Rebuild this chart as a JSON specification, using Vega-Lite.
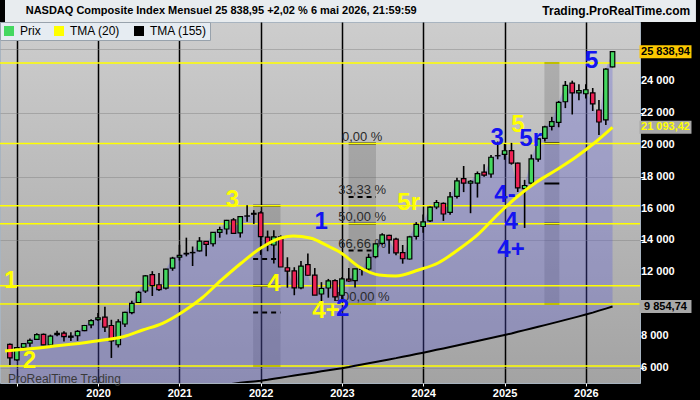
{
  "$schema": "https://vega.github.io/schema/vega-lite/v6.json",
  "background": "black",
  "autosize": {"type": "none"},
  "padding": {"left": 0, "top": 22, "right": 60, "bottom": 17},
  "width": 640,
  "height": 361,
  "view": {
    "fill": {"gradient": "linear", "x1": 0, "y1": 0, "x2": 0, "y2": 1,
             "stops": [{"offset": 0, "color": "#cdcdcd"}, {"offset": 1, "color": "#a3a3a3"}]},
    "stroke": "#a8b4c0"
  },
  "config": {
    "font": "Liberation Sans",
    "axis": {"labelOverlap": false},
    "locale": {"number": {"decimal": ",", "thousands": " ", "grouping": [3], "currency": ["", " €"]}}
  },
  "datasets": {
    "mois": [
      {"d": "2018-12-01", "o": 7487, "h": 7535, "l": 6190, "c": 6635, "t": 3560},
      {"d": "2019-01-01", "o": 6506, "h": 7310, "l": 6457, "c": 7282, "t": 3600},
      {"d": "2019-02-01", "o": 7302, "h": 7556, "l": 7234, "c": 7533, "t": 3635},
      {"d": "2019-03-01", "o": 7558, "h": 7851, "l": 7332, "c": 7729, "t": 3670},
      {"d": "2019-04-01", "o": 7800, "h": 8176, "l": 7750, "c": 8095, "t": 3705},
      {"d": "2019-05-01", "o": 8108, "h": 8165, "l": 7436, "c": 7453, "t": 3740},
      {"d": "2019-06-01", "o": 7444, "h": 8092, "l": 7292, "c": 8006, "t": 3775},
      {"d": "2019-07-01", "o": 8091, "h": 8339, "l": 7990, "c": 8175, "t": 3810},
      {"d": "2019-08-01", "o": 8186, "h": 8311, "l": 7662, "c": 7963, "t": 3850},
      {"d": "2019-09-01", "o": 7930, "h": 8243, "l": 7700, "c": 7999, "t": 3890},
      {"d": "2019-10-01", "o": 8024, "h": 8375, "l": 7700, "c": 8292, "t": 3930},
      {"d": "2019-11-01", "o": 8350, "h": 8705, "l": 8310, "c": 8665, "t": 3975},
      {"d": "2019-12-01", "o": 8700, "h": 9052, "l": 8500, "c": 8973, "t": 4020},
      {"d": "2020-01-01", "o": 9039, "h": 9451, "l": 8952, "c": 9150, "t": 4060},
      {"d": "2020-02-01", "o": 9190, "h": 9838, "l": 8264, "c": 8567, "t": 4100},
      {"d": "2020-03-01", "o": 8667, "h": 9026, "l": 6631, "c": 7700, "t": 4140},
      {"d": "2020-04-01", "o": 7459, "h": 9060, "l": 7288, "c": 8890, "t": 4180},
      {"d": "2020-05-01", "o": 8760, "h": 9523, "l": 8567, "c": 9490, "t": 4220},
      {"d": "2020-06-01", "o": 9471, "h": 10222, "l": 9371, "c": 10058, "t": 4260},
      {"d": "2020-07-01", "o": 10109, "h": 10839, "l": 10096, "c": 10745, "t": 4305},
      {"d": "2020-08-01", "o": 10831, "h": 11829, "l": 10707, "c": 11775, "t": 4350},
      {"d": "2020-09-01", "o": 11860, "h": 12074, "l": 10519, "c": 11168, "t": 4395},
      {"d": "2020-10-01", "o": 11221, "h": 11965, "l": 10822, "c": 10911, "t": 4440},
      {"d": "2020-11-01", "o": 11010, "h": 12229, "l": 10927, "c": 12199, "t": 4490},
      {"d": "2020-12-01", "o": 12259, "h": 12973, "l": 12099, "c": 12888, "t": 4545},
      {"d": "2021-01-01", "o": 12958, "h": 13728, "l": 12741, "c": 13070, "t": 4600},
      {"d": "2021-02-01", "o": 13154, "h": 14175, "l": 13003, "c": 13192, "t": 4650},
      {"d": "2021-03-01", "o": 13230, "h": 13620, "l": 12397, "c": 13247, "t": 4700},
      {"d": "2021-04-01", "o": 13345, "h": 14211, "l": 13300, "c": 13962, "t": 4750},
      {"d": "2021-05-01", "o": 13938, "h": 13968, "l": 13002, "c": 13749, "t": 4800},
      {"d": "2021-06-01", "o": 13792, "h": 14536, "l": 13625, "c": 14504, "t": 4850},
      {"d": "2021-07-01", "o": 14510, "h": 14863, "l": 14172, "c": 14673, "t": 4905},
      {"d": "2021-08-01", "o": 14719, "h": 15288, "l": 14376, "c": 15259, "t": 4960},
      {"d": "2021-09-01", "o": 15288, "h": 15403, "l": 14418, "c": 14449, "t": 5015},
      {"d": "2021-10-01", "o": 14472, "h": 15498, "l": 14181, "c": 15498, "t": 5070},
      {"d": "2021-11-01", "o": 15527, "h": 16212, "l": 15168, "c": 15538, "t": 5120},
      {"d": "2021-12-01", "o": 15700, "h": 15901, "l": 15038, "c": 15645, "t": 5160},
      {"d": "2022-01-01", "o": 15732, "h": 15833, "l": 13094, "c": 14240, "t": 5204},
      {"d": "2022-02-01", "o": 14203, "h": 14620, "l": 13322, "c": 13751, "t": 5265},
      {"d": "2022-03-01", "o": 13716, "h": 14646, "l": 12555, "c": 14221, "t": 5330},
      {"d": "2022-04-01", "o": 14219, "h": 14320, "l": 12334, "c": 12335, "t": 5395},
      {"d": "2022-05-01", "o": 12287, "h": 12945, "l": 11035, "c": 12081, "t": 5460},
      {"d": "2022-06-01", "o": 12089, "h": 12320, "l": 10565, "c": 11028, "t": 5525},
      {"d": "2022-07-01", "o": 11028, "h": 12705, "l": 10940, "c": 12391, "t": 5590},
      {"d": "2022-08-01", "o": 12480, "h": 13181, "l": 11785, "c": 11816, "t": 5655},
      {"d": "2022-09-01", "o": 11826, "h": 12270, "l": 10576, "c": 10576, "t": 5720},
      {"d": "2022-10-01", "o": 10641, "h": 11386, "l": 10089, "c": 10988, "t": 5790},
      {"d": "2022-11-01", "o": 11019, "h": 11587, "l": 10410, "c": 11468, "t": 5855},
      {"d": "2022-12-01", "o": 11486, "h": 11571, "l": 10207, "c": 10466, "t": 5920},
      {"d": "2023-01-01", "o": 10563, "h": 11691, "l": 10265, "c": 11585, "t": 5982},
      {"d": "2023-02-01", "o": 11574, "h": 12270, "l": 11406, "c": 11456, "t": 6060},
      {"d": "2023-03-01", "o": 11479, "h": 12227, "l": 11050, "c": 12222, "t": 6140},
      {"d": "2023-04-01", "o": 12183, "h": 12270, "l": 11796, "c": 12227, "t": 6220},
      {"d": "2023-05-01", "o": 12208, "h": 13164, "l": 11963, "c": 12935, "t": 6300},
      {"d": "2023-06-01", "o": 12984, "h": 13828, "l": 12882, "c": 13788, "t": 6380},
      {"d": "2023-07-01", "o": 13813, "h": 14446, "l": 13723, "c": 14346, "t": 6460},
      {"d": "2023-08-01", "o": 14313, "h": 14359, "l": 13161, "c": 14035, "t": 6540},
      {"d": "2023-09-01", "o": 14080, "h": 14174, "l": 13079, "c": 13219, "t": 6620},
      {"d": "2023-10-01", "o": 13241, "h": 13715, "l": 12544, "c": 12851, "t": 6710},
      {"d": "2023-11-01", "o": 12836, "h": 14291, "l": 12800, "c": 14226, "t": 6790},
      {"d": "2023-12-01", "o": 14258, "h": 15151, "l": 14055, "c": 15011, "t": 6875},
      {"d": "2024-01-01", "o": 14874, "h": 15629, "l": 14477, "c": 15164, "t": 6960},
      {"d": "2024-02-01", "o": 15228, "h": 16134, "l": 15163, "c": 16092, "t": 7050},
      {"d": "2024-03-01", "o": 16099, "h": 16538, "l": 15962, "c": 16379, "t": 7140},
      {"d": "2024-04-01", "o": 16324, "h": 16384, "l": 15223, "c": 15658, "t": 7230},
      {"d": "2024-05-01", "o": 15759, "h": 17032, "l": 15605, "c": 16735, "t": 7320},
      {"d": "2024-06-01", "o": 16766, "h": 17936, "l": 16628, "c": 17733, "t": 7415},
      {"d": "2024-07-01", "o": 17879, "h": 18671, "l": 17032, "c": 17599, "t": 7505},
      {"d": "2024-08-01", "o": 17591, "h": 17786, "l": 15708, "c": 17714, "t": 7600},
      {"d": "2024-09-01", "o": 17598, "h": 18327, "l": 16690, "c": 18189, "t": 7690},
      {"d": "2024-10-01", "o": 18282, "h": 18785, "l": 17988, "c": 18095, "t": 7785},
      {"d": "2024-11-01", "o": 18167, "h": 19366, "l": 17925, "c": 19218, "t": 7880},
      {"d": "2024-12-01", "o": 19313, "h": 20205, "l": 19091, "c": 19311, "t": 7975},
      {"d": "2025-01-01", "o": 19403, "h": 20053, "l": 19059, "c": 19627, "t": 8070},
      {"d": "2025-02-01", "o": 19632, "h": 20118, "l": 18753, "c": 18847, "t": 8170},
      {"d": "2025-03-01", "o": 18851, "h": 18880, "l": 17040, "c": 17299, "t": 8270},
      {"d": "2025-04-01", "o": 17250, "h": 17800, "l": 14784, "c": 17446, "t": 8375},
      {"d": "2025-05-01", "o": 17600, "h": 19390, "l": 17500, "c": 19114, "t": 8480},
      {"d": "2025-06-01", "o": 19100, "h": 20400, "l": 18930, "c": 20370, "t": 8585},
      {"d": "2025-07-01", "o": 20400, "h": 21200, "l": 20200, "c": 21122, "t": 8690},
      {"d": "2025-08-01", "o": 21150, "h": 21750, "l": 20900, "c": 21456, "t": 8800},
      {"d": "2025-09-01", "o": 21400, "h": 22750, "l": 21100, "c": 22660, "t": 8910},
      {"d": "2025-10-01", "o": 22700, "h": 24000, "l": 22300, "c": 23725, "t": 9020},
      {"d": "2025-11-01", "o": 23870, "h": 24020, "l": 21900, "c": 23250, "t": 9130},
      {"d": "2025-12-01", "o": 23250, "h": 23800, "l": 22800, "c": 23400, "t": 9240},
      {"d": "2026-01-01", "o": 23200, "h": 23800, "l": 22900, "c": 23450, "t": 9355},
      {"d": "2026-02-01", "o": 23250, "h": 23560, "l": 22120, "c": 22560, "t": 9475},
      {"d": "2026-03-01", "o": 22180, "h": 22810, "l": 20610, "c": 21430, "t": 9600},
      {"d": "2026-04-01", "o": 21560, "h": 24800, "l": 21240, "c": 24750, "t": 9725},
      {"d": "2026-05-01", "o": 24880, "h": 25850, "l": 24850, "c": 25838.94, "t": 9854.74}
    ],
    "tma20": [
      {"d": "2018-11-09", "v": 7067},
      {"d": "2019-02-05", "v": 7174},
      {"d": "2019-05-27", "v": 7337},
      {"d": "2019-09-01", "v": 7488},
      {"d": "2020-01-03", "v": 7714},
      {"d": "2020-04-23", "v": 7964},
      {"d": "2020-07-20", "v": 8384},
      {"d": "2020-10-17", "v": 8804},
      {"d": "2021-01-13", "v": 9500},
      {"d": "2021-04-12", "v": 10391},
      {"d": "2021-07-09", "v": 11520},
      {"d": "2021-10-06", "v": 12586},
      {"d": "2022-01-02", "v": 13527},
      {"d": "2022-04-01", "v": 14154},
      {"d": "2022-05-28", "v": 14279},
      {"d": "2022-08-11", "v": 14154},
      {"d": "2022-11-08", "v": 13590},
      {"d": "2022-12-22", "v": 13276},
      {"d": "2023-03-20", "v": 12335},
      {"d": "2023-06-17", "v": 11833},
      {"d": "2023-08-31", "v": 11770},
      {"d": "2023-12-11", "v": 12147},
      {"d": "2024-03-08", "v": 12586},
      {"d": "2024-06-05", "v": 13402},
      {"d": "2024-09-01", "v": 14342},
      {"d": "2024-11-29", "v": 15596},
      {"d": "2025-02-25", "v": 16725},
      {"d": "2025-05-25", "v": 17666},
      {"d": "2025-08-21", "v": 18418},
      {"d": "2025-11-18", "v": 19234},
      {"d": "2026-02-14", "v": 20175},
      {"d": "2026-05-01", "v": 21093.42}
    ],
    "boites": [
      {"debut": "2021-11-28", "fin": "2022-03-31", "haut": 16180, "bas": 6130},
      {"debut": "2023-01-31", "fin": "2023-06-03", "haut": 20080, "bas": 10010},
      {"debut": "2025-06-29", "fin": "2025-09-04", "haut": 25130, "bas": 10010}
    ],
    "fibo": [
      {"debut": "2021-11-28", "fin": "2022-03-31", "niveau": 16180, "trait": "plein"},
      {"debut": "2021-11-28", "fin": "2022-03-31", "niveau": 12830, "trait": "tirets"},
      {"debut": "2021-11-28", "fin": "2022-03-31", "niveau": 11155, "trait": "plein"},
      {"debut": "2021-11-28", "fin": "2022-03-31", "niveau": 9480, "trait": "tirets"},
      {"debut": "2021-11-28", "fin": "2022-03-31", "niveau": 6130, "trait": "plein"},
      {"debut": "2023-01-31", "fin": "2023-06-03", "niveau": 20080, "trait": "plein"},
      {"debut": "2023-01-31", "fin": "2023-06-03", "niveau": 16724, "trait": "tirets"},
      {"debut": "2023-01-31", "fin": "2023-06-03", "niveau": 15045, "trait": "plein"},
      {"debut": "2023-01-31", "fin": "2023-06-03", "niveau": 13367, "trait": "tirets"},
      {"debut": "2023-01-31", "fin": "2023-06-03", "niveau": 10010, "trait": "plein"},
      {"debut": "2025-06-29", "fin": "2025-09-04", "niveau": 25130, "trait": "plein"},
      {"debut": "2025-06-29", "fin": "2025-09-04", "niveau": 20090, "trait": "plein"},
      {"debut": "2025-06-29", "fin": "2025-09-04", "niveau": 17570, "trait": "plein"},
      {"debut": "2025-06-29", "fin": "2025-09-04", "niveau": 15051, "trait": "plein"},
      {"debut": "2025-06-29", "fin": "2025-09-04", "niveau": 10010, "trait": "plein"}
    ],
    "fiboTextes": [
      {"niveau": 20080, "label": "0,00 %"},
      {"niveau": 16724, "label": "33,33 %"},
      {"niveau": 15045, "label": "50,00 %"},
      {"niveau": 13367, "label": "66,66 %"},
      {"niveau": 10010, "label": "100,00 %"}
    ],
    "niveaux": [
      {"v": 25130}, {"v": 20080}, {"v": 16180}, {"v": 15045}, {"v": 11155}, {"v": 10010}, {"v": 6130}
    ],
    "graduations": [
      {"v": 24000}, {"v": 22000}, {"v": 20000}, {"v": 18000}, {"v": 16000}, {"v": 14000}, {"v": 12000}, {"v": 8000}, {"v": 6000}
    ],
    "vagues": [
      {"d": "2018-12-04", "v": 11457, "t": "1", "c": "jaune"},
      {"d": "2019-02-27", "v": 6439, "t": "2", "c": "jaune"},
      {"d": "2021-08-27", "v": 16537, "t": "3", "c": "jaune"},
      {"d": "2022-03-01", "v": 11268, "t": "4", "c": "jaune"},
      {"d": "2022-10-21", "v": 9575, "t": "4+", "c": "jaune"},
      {"d": "2023-01-04", "v": 9700, "t": "2", "c": "bleu"},
      {"d": "2023-10-28", "v": 16349, "t": "5r", "c": "jaune"},
      {"d": "2025-03-02", "v": 21241, "t": "5", "c": "jaune"},
      {"d": "2022-09-30", "v": 15157, "t": "1", "c": "bleu"},
      {"d": "2024-11-29", "v": 20425, "t": "3", "c": "bleu"},
      {"d": "2025-04-28", "v": 20363, "t": "5r", "c": "bleu"},
      {"d": "2025-01-03", "v": 16850, "t": "4-", "c": "bleu"},
      {"d": "2025-01-30", "v": 15157, "t": "4", "c": "bleu"},
      {"d": "2025-01-30", "v": 13401, "t": "4+", "c": "bleu"},
      {"d": "2026-01-27", "v": 25255, "t": "5", "c": "bleu"}
    ],
    "etiquettes": [
      {"v": 25838.94, "label": "25 838,94", "kind": "prix"},
      {"v": 21093.42, "label": "21 093,42", "kind": "tma20"},
      {"v": 9854.74, "label": "9 854,74", "kind": "tma155"}
    ],
    "entete": [
      {"cote": "gauche", "label": "NASDAQ Composite Index Mensuel 25 838,95 +2,02 % 6 mai 2026, 21:59:59"},
      {"cote": "droite", "label": "Trading.ProRealTime.com"}
    ]
  },
  "layer": [
    {
      "data": {"name": "mois"},
      "mark": {"type": "rule", "color": "black", "strokeWidth": 0, "opacity": 0},
      "encoding": {
        "x": {
          "field": "d", "type": "temporal", "title": null,
          "scale": {"type": "utc", "nice": false, "domain": [{"year": 2018, "month": 11, "date": 9, "utc": true}, {"year": 2026, "month": 8, "date": 10, "utc": true}]},
          "axis": {
            "orient": "bottom", "format": "%Y",
            "values": [
              {"year": 2019, "month": 1, "date": 1, "utc": true},
              {"year": 2020, "month": 1, "date": 1, "utc": true},
              {"year": 2021, "month": 1, "date": 1, "utc": true},
              {"year": 2022, "month": 1, "date": 1, "utc": true},
              {"year": 2023, "month": 1, "date": 1, "utc": true},
              {"year": 2024, "month": 1, "date": 1, "utc": true},
              {"year": 2025, "month": 1, "date": 1, "utc": true},
              {"year": 2026, "month": 1, "date": 1, "utc": true}
            ],
            "labelExpr": "datum.label == '2019' ? '' : datum.label",
            "labelColor": "white", "labelFontSize": 11, "labelFontWeight": "bold", "labelPadding": 1,
            "labelFlush": false, "labelOverlap": false,
            "tickColor": "white", "tickSize": 3, "domain": false,
            "grid": true, "gridColor": "black", "gridWidth": 1.5, "gridOpacity": 1
          }
        },
        "y": {
          "field": "l", "type": "quantitative", "title": null,
          "scale": {"domain": [5060, 27700], "nice": false, "zero": false},
          "axis": {
            "orient": "right",
            "values": [6000, 8000, 10000, 12000, 14000, 16000, 18000, 20000, 22000, 24000, 26000],
            "labels": false,
            "tickColor": "white", "tickSize": 4, "domain": false,
            "grid": true, "gridColor": "#808080", "gridOpacity": 0.45, "gridWidth": 1
          }
        }
      }
    },
    {
      "data": {"name": "entete"},
      "mark": {"type": "rect", "color": "#e8ecef"},
      "encoding": {
        "x": {"datum": {"year": 2018, "month": 11, "date": 9, "utc": true}},
        "x2": {"datum": {"year": 2027, "month": 5, "date": 10, "utc": true}},
        "y": {"datum": 27700},
        "y2": {"datum": 29100}
      }
    },
    {
      "data": {"name": "boites"},
      "mark": {"type": "rect", "color": "#404040", "opacity": 0.2},
      "encoding": {
        "x": {"field": "debut", "type": "temporal"},
        "x2": {"field": "fin"},
        "y": {"field": "haut", "type": "quantitative"},
        "y2": {"field": "bas"}
      }
    },
    {
      "data": {"name": "mois"},
      "mark": {"type": "area", "color": "#5a5ad9", "opacity": 0.3, "clip": true},
      "encoding": {
        "x": {"field": "d", "type": "temporal"},
        "y": {"field": "c", "type": "quantitative"},
        "y2": {"field": "t"}
      }
    },
    {
      "data": {"name": "fibo"},
      "mark": {"type": "rule", "color": "black", "strokeWidth": 2},
      "encoding": {
        "x": {"field": "debut", "type": "temporal"},
        "x2": {"field": "fin"},
        "y": {"field": "niveau", "type": "quantitative"},
        "strokeDash": {"field": "trait", "type": "nominal", "legend": null,
                       "scale": {"domain": ["plein", "tirets"], "range": [[1, 0], [5, 4]]}}
      }
    },
    {
      "data": {"name": "fiboTextes"},
      "mark": {"type": "text", "align": "center", "baseline": "alphabetic", "dy": -3, "fontSize": 13, "color": "#2a2a2a"},
      "encoding": {
        "x": {"datum": {"year": 2023, "month": 4, "date": 2, "utc": true}},
        "y": {"field": "niveau", "type": "quantitative"},
        "text": {"field": "label"}
      }
    },
    {
      "data": {"name": "niveaux"},
      "mark": {"type": "rule", "color": "#ffff00", "strokeWidth": 1.5},
      "encoding": {
        "y": {"field": "v", "type": "quantitative"}
      }
    },
    {
      "data": {"name": "mois"},
      "mark": {"type": "rule", "color": "black", "strokeWidth": 1.6},
      "encoding": {
        "x": {"field": "d", "type": "temporal"},
        "y": {"field": "l", "type": "quantitative"},
        "y2": {"field": "h"}
      }
    },
    {
      "data": {"name": "mois"},
      "mark": {"type": "bar", "size": 4.5, "stroke": "black", "strokeWidth": 1.2},
      "encoding": {
        "x": {"field": "d", "type": "temporal"},
        "y": {"field": "o", "type": "quantitative"},
        "y2": {"field": "c"},
        "color": {"condition": {"test": "datum.c >= datum.o", "value": "#44d860"}, "value": "#ee2255"}
      }
    },
    {
      "data": {"name": "mois"},
      "mark": {"type": "line", "strokeWidth": 2, "clip": true},
      "encoding": {
        "x": {"field": "d", "type": "temporal"},
        "y": {"field": "t", "type": "quantitative"},
        "color": {
          "datum": "TMA (155)",
          "scale": {"domain": ["Prix", "TMA (20)", "TMA (155)"], "range": ["#44d860", "#ffff00", "#000000"]},
          "legend": {
            "title": null, "orient": "top-left", "offset": 0, "direction": "horizontal", "padding": 3,
            "fillColor": "#e6ecf2", "strokeColor": "#98a2ac",
            "symbolType": "square", "symbolSize": 100, "symbolStrokeWidth": 0,
            "labelFontSize": 12, "labelColor": "black", "labelOffset": 5, "columnPadding": 12,
            "encode": {"symbols": {"update": {"fill": {"scale": "color", "field": "value"}, "fillOpacity": {"value": 1}}}}
          }
        }
      }
    },
    {
      "data": {"name": "tma20"},
      "mark": {"type": "line", "strokeWidth": 3, "interpolate": "monotone", "clip": true},
      "encoding": {
        "x": {"field": "d", "type": "temporal"},
        "y": {"field": "v", "type": "quantitative"},
        "color": {"datum": "TMA (20)"}
      }
    },
    {
      "data": {"name": "vagues"},
      "mark": {"type": "text", "align": "center", "baseline": "middle", "fontSize": 24, "fontWeight": "bold", "clip": true},
      "encoding": {
        "x": {"field": "d", "type": "temporal"},
        "y": {"field": "v", "type": "quantitative"},
        "text": {"field": "t"},
        "color": {"condition": {"test": "datum.c == 'jaune'", "value": "#ffff00"}, "value": "#1414f0"}
      }
    },
    {
      "data": {"name": "graduations"},
      "mark": {"type": "text", "align": "left", "baseline": "middle", "fontSize": 11, "fontWeight": "bold", "color": "white", "dx": 6},
      "encoding": {
        "x": {"datum": {"year": 2026, "month": 8, "date": 10, "utc": true}},
        "y": {"field": "v", "type": "quantitative"},
        "text": {"field": "v", "type": "quantitative", "format": ",d"}
      }
    },
    {
      "data": {"name": "etiquettes"},
      "mark": {"type": "tick", "orient": "horizontal", "size": 52, "thickness": 13, "opacity": 1},
      "encoding": {
        "x": {"datum": {"year": 2026, "month": 12, "date": 25, "utc": true}},
        "y": {"field": "v", "type": "quantitative"},
        "color": {"condition": {"test": "datum.kind == 'prix'", "value": "#fcc800"}, "value": "#a8a8a8"}
      }
    },
    {
      "data": {"name": "etiquettes"},
      "mark": {"type": "text", "align": "center", "baseline": "middle", "fontSize": 11, "fontWeight": "bold"},
      "encoding": {
        "x": {"datum": {"year": 2026, "month": 12, "date": 25, "utc": true}},
        "y": {"field": "v", "type": "quantitative"},
        "text": {"field": "label"},
        "color": {"condition": {"test": "datum.kind == 'tma20'", "value": "#ffff00"}, "value": "black"}
      }
    },
    {
      "data": {"name": "entete"},
      "transform": [{"filter": "datum.cote == 'gauche'"}],
      "mark": {"type": "text", "align": "left", "baseline": "middle", "fontSize": 11, "fontWeight": "bold", "color": "black"},
      "encoding": {
        "x": {"datum": {"year": 2019, "month": 2, "date": 10, "utc": true}},
        "y": {"datum": 28390},
        "text": {"field": "label"}
      }
    },
    {
      "data": {"name": "entete"},
      "transform": [{"filter": "datum.cote == 'droite'"}],
      "mark": {"type": "text", "align": "right", "baseline": "middle", "fontSize": 12, "fontWeight": "bold", "color": "black"},
      "encoding": {
        "x": {"datum": {"year": 2027, "month": 4, "date": 15, "utc": true}},
        "y": {"datum": 28390},
        "text": {"field": "label"}
      }
    },
    {
      "data": {"values": [{"t": "ProRealTime Trading"}]},
      "mark": {"type": "text", "align": "left", "baseline": "middle", "fontSize": 12, "color": "#3a3a3a"},
      "encoding": {
        "x": {"datum": {"year": 2018, "month": 11, "date": 22, "utc": true}},
        "y": {"datum": 5300},
        "text": {"field": "t"}
      }
    }
  ]
}
